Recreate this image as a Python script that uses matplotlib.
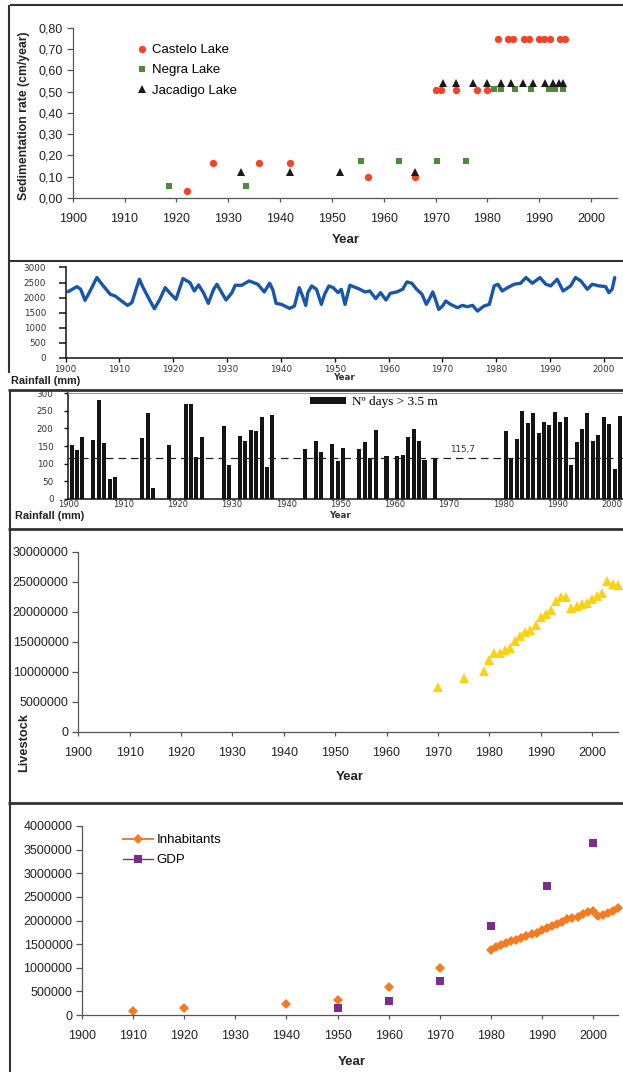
import matplotlib
matplotlib.use("Agg")
import matplotlib.pyplot as plt
from matplotlib.lines import Line2D

plt.rcParams['font.family'] = ['Liberation Sans', 'DejaVu Sans']

# ---------------- data ----------------
decade_ticks = [1900, 1910, 1920, 1930, 1940, 1950, 1960, 1970, 1980, 1990, 2000]
decade_labels = ['1900', '1910', '1920', '1930', '1940', '1950', '1960', '1970', '1980', '1990', '2000']

# Panel 1: sedimentation rates
castelo_year = [1922, 1927, 1936, 1942, 1957, 1966, 1970, 1971, 1974, 1978, 1980,
                1982, 1984, 1985, 1987, 1988, 1990, 1991, 1992, 1994, 1995]
castelo_rate = [0.034, 0.165, 0.165, 0.165, 0.097, 0.097, 0.505, 0.505, 0.505, 0.505, 0.505,
                0.745, 0.745, 0.745, 0.745, 0.745, 0.745, 0.745, 0.745, 0.745, 0.745]
negra_year = [1918.5, 1933.4, 1955.7, 1963.0, 1970.3, 1975.8, 1981.2, 1982.6, 1985.3,
              1988.4, 1991.8, 1993.1, 1994.6]
negra_rate = [0.055, 0.055, 0.175, 0.175, 0.175, 0.175, 0.514, 0.514, 0.514,
              0.514, 0.514, 0.514, 0.514]
jacadigo_year = [1932.4, 1942.0, 1951.6, 1966.1, 1971.4, 1973.9, 1977.2, 1980.0, 1982.6,
                 1984.5, 1986.8, 1988.7, 1991.2, 1992.6, 1993.9, 1994.6]
jacadigo_rate = [0.12, 0.12, 0.12, 0.12, 0.54, 0.54, 0.54, 0.54, 0.54,
                 0.54, 0.54, 0.54, 0.54, 0.54, 0.54, 0.54]
sed_ticks = [0.0, 0.1, 0.2, 0.3, 0.4, 0.5, 0.6, 0.7, 0.8]
sed_labels = ['0,00', '0,10', '0,20', '0,30', '0,40', '0,50', '0,60', '0,70', '0,80']

# Panel 2: rainfall (mm)
rain_year = [1900.5, 1902.1, 1902.8, 1903.6, 1904.4, 1905.8, 1907.0, 1908.3, 1909.2, 1910.4,
             1911.5, 1912.3, 1913.7, 1914.4, 1915.7, 1916.5, 1917.5, 1918.5, 1919.4, 1920.5,
             1921.8, 1923.1, 1923.9, 1924.7, 1925.6, 1926.5, 1927.5, 1928.1, 1929.0, 1929.8,
             1930.9, 1931.5, 1932.7, 1934.1, 1935.7, 1936.9, 1937.9, 1938.5, 1939.1, 1940.1,
             1941.6, 1942.5, 1943.4, 1944.0, 1944.6, 1945.0, 1945.7, 1946.6, 1947.5, 1948.1,
             1948.9, 1949.7, 1950.6, 1951.2, 1951.9, 1952.8, 1954.4, 1955.6, 1956.5, 1957.6,
             1958.5, 1959.5, 1960.3, 1961.5, 1962.6, 1963.4, 1964.3, 1965.2, 1966.2, 1967.0,
             1967.6, 1968.2, 1968.7, 1969.3, 1970.0, 1970.6, 1971.5, 1972.8, 1973.7, 1974.6,
             1975.6, 1976.5, 1977.7, 1978.7, 1979.6, 1980.3, 1981.1, 1982.1, 1983.3, 1984.5,
             1985.5, 1986.7, 1988.1, 1989.2, 1990.1, 1991.3, 1992.4, 1993.8, 1994.7, 1995.7,
             1996.9, 1997.8, 1999.1, 2000.3, 2000.9, 2001.5, 2002.0]
rain_mm = [2200, 2367, 2280, 1911, 2167, 2667, 2389, 2111, 2055, 1889,
           1744, 1833, 2611, 2333, 1889, 1633, 1944, 2333, 2144, 1944,
           2633, 2500, 2222, 2422, 2167, 1811, 2278, 2444, 2167, 1922,
           2167, 2411, 2411, 2555, 2444, 2189, 2478, 2255, 1811, 1778,
           1644, 1722, 2333, 2055, 1744, 2167, 2389, 2278, 1778, 2111,
           2389, 2333, 2167, 2278, 1778, 2411, 2300, 2189, 2222, 1967,
           2167, 1922, 2144, 2189, 2278, 2522, 2478, 2278, 2111, 1778,
           1967, 2189, 1944, 1611, 1722, 1889, 1778, 1667, 1744, 1700,
           1744, 1555, 1722, 1778, 2389, 2444, 2222, 2333, 2444, 2478,
           2667, 2478, 2667, 2444, 2389, 2611, 2222, 2389, 2667, 2555,
           2278, 2444, 2389, 2367, 2167, 2278, 2667]
rain_ticks = [0, 500, 1000, 1500, 2000, 2500, 3000]
rain_labels = ['0', '500', '1000', '1500', '2000', '2500', '3000']

# Panel 3: number of days > 3.5 m
days_year = [1900, 1901, 1902, 1904, 1905, 1906, 1907, 1908, 1913, 1914, 1915, 1918,
             1921, 1922, 1923, 1924, 1928, 1929, 1931, 1932, 1933, 1934, 1935, 1936, 1937,
             1943, 1945, 1946, 1948, 1949, 1950, 1953, 1954, 1955, 1956, 1958,
             1960, 1961, 1962, 1963, 1964, 1965, 1967,
             1980, 1981, 1982, 1983, 1984, 1985, 1986, 1987, 1988, 1989, 1990,
             1991, 1992, 1993, 1994, 1995, 1996, 1997, 1998, 1999, 2000, 2001]
days_count = [152, 138, 175, 167, 280, 158, 57, 63, 174, 242, 31, 154,
              270, 270, 120, 175, 207, 97, 179, 165, 196, 193, 233, 90, 239,
              142, 165, 133, 156, 107, 144, 142, 160, 116, 196, 121,
              121, 125, 175, 198, 165, 111, 114,
              193, 116, 170, 250, 216, 243, 186, 219, 209, 246, 219,
              232, 95, 161, 197, 243, 165, 180, 232, 213, 85, 235]
days_mean = 115.7
days_ticks = [0, 50, 100, 150, 200, 250, 300]
days_labels = ['0', '50', '100', '150', '200', '250', '300']

# Panel 4: livestock
livestock_year = [1970, 1975, 1979, 1980, 1981, 1982, 1983, 1984, 1985, 1986, 1987, 1988,
                  1989, 1990, 1991, 1992, 1993, 1994, 1995, 1996, 1997, 1998, 1999, 2000,
                  2001, 2002, 2003, 2004, 2005]
livestock_head = [7500000, 8900000, 10100000, 11900000, 13050000, 13200000, 13550000,
                  13900000, 15100000, 15900000, 16550000, 17000000, 17800000, 19200000,
                  19550000, 20300000, 21800000, 22400000, 22400000, 20700000, 21000000,
                  21350000, 21500000, 22100000, 22700000, 23200000, 25100000, 24700000,
                  24400000]
live_ticks = [0, 5000000, 10000000, 15000000, 20000000, 25000000, 30000000]
live_labels = ['0', '5000000', '10000000', '15000000', '20000000', '25000000', '30000000']

# Panel 5: inhabitants and GDP
inhab_year = [1910, 1920, 1940, 1950, 1960, 1970, 1980, 1981, 1982, 1983, 1984, 1985,
              1986, 1987, 1988, 1989, 1990, 1991, 1992, 1993, 1994, 1995, 1996, 1997,
              1998, 1999, 2000, 2001, 2002, 2003, 2004, 2005]
inhab_count = [85000, 141000, 240000, 310000, 593000, 995000, 1376000, 1446000, 1474000,
               1517000, 1559000, 1587000, 1630000, 1672000, 1707000, 1742000, 1799000,
               1841000, 1884000, 1926000, 1975000, 2025000, 2046000, 2081000, 2130000,
               2180000, 2200000, 2095000, 2116000, 2150000, 2200000, 2270000]
gdp_year = [1950, 1960, 1970, 1980, 1991, 2000]
gdp_value = [155000, 303000, 720000, 1884000, 2730000, 3647000]
pop_ticks = [0, 500000, 1000000, 1500000, 2000000, 2500000, 3000000, 3500000, 4000000]
pop_labels = ['0', '500000', '1000000', '1500000', '2000000', '2500000', '3000000',
              '3500000', '4000000']

# ---------------- figure ----------------
W, H = 623, 1072
fig = plt.figure(figsize=(W / 100, H / 100), dpi=100)
fig.patch.set_facecolor('white')


def ax_px(left, top, right, bottom):
    return fig.add_axes([left / W, 1 - bottom / H, (right - left) / W, (bottom - top) / H])


def fx(x):
    return x / W


def fy(y):
    return 1 - y / H


def frame_line(xs, ys, lw=1.5, color='#333333'):
    fig.add_artist(Line2D([fx(v) for v in xs], [fy(v) for v in ys],
                          transform=fig.transFigure, color=color, lw=lw,
                          solid_capstyle='butt'))


# panel frames
frame_line([9.5, 623], [5, 5])
frame_line([9, 9], [5, 373])
frame_line([8, 623], [261, 261])
frame_line([8, 623], [389.5, 389.5], lw=2.0)
frame_line([9.5, 9.5], [389.5, 1072])
frame_line([8, 623], [529, 529], lw=2.0)
frame_line([8, 623], [803, 803], lw=2.0)

AXC = '#555555'
TXT = '#222222'


def excel_axes(ax):
    for s in ('top', 'right'):
        ax.spines[s].set_visible(False)
    for s in ('left', 'bottom'):
        ax.spines[s].set_color(AXC)
        ax.spines[s].set_linewidth(0.9)
    ax.tick_params(axis='both', colors=AXC, labelcolor=TXT, labelsize=9, width=0.9)
    ax.tick_params(axis='x', direction='out', length=3, pad=8)
    ax.tick_params(axis='y', direction='out', length=4, pad=3)
    ax.set_facecolor('none')


# ---- Panel 1 ----
ax1 = ax_px(72.7, 27.7, 617, 198)
excel_axes(ax1)
ax1.plot(castelo_year, castelo_rate, 'o', color='#F0452A', ms=5.3, mew=0, label='Castelo Lake')
ax1.plot(negra_year, negra_rate, 's', color='#4B8B3B', ms=5.0, mew=0, label='Negra Lake')
ax1.plot(jacadigo_year, jacadigo_rate, '^', color='#1A1A1A', ms=5.8, mew=0, label='Jacadigo Lake')
ax1.set_xlim(1900, 2005)
ax1.set_ylim(0, 0.8)
ax1.set_xticks(decade_ticks, decade_labels)
ax1.set_yticks(sed_ticks, sed_labels)
ax1.legend(loc='upper left', bbox_to_anchor=(fx(138), fy(44)), bbox_transform=fig.transFigure,
           frameon=False, borderpad=0, borderaxespad=0, handlelength=0.6, handletextpad=0.45,
           labelspacing=0.6, numpoints=1, fontsize=9.5)
fig.text(fx(24), fy(116), 'Sedimentation rate (cm/year)', rotation=90, ha='center', va='center',
         fontsize=8.8, fontweight='bold', color=TXT)
fig.text(fx(346), fy(240), 'Year', ha='center', va='center', fontsize=9.5, fontweight='bold',
         color=TXT)

# ---- Panel 2 ----
SMALL = 'DejaVu Sans'
ax2 = ax_px(65.6, 267.5, 623, 358)
for s in ('top', 'right'):
    ax2.spines[s].set_visible(False)
for s in ('left', 'bottom'):
    ax2.spines[s].set_color('#111111')
    ax2.spines[s].set_linewidth(1.1)
ax2.plot(rain_year, rain_mm, color='#1756A9', lw=2.4, solid_joinstyle='round',
         solid_capstyle='round')
ax2.set_xlim(1900, 1900 + (623 - 65.6) / 5.384)
ax2.set_ylim(0, 3000)
ax2.set_xticks(decade_ticks, decade_labels, fontfamily=SMALL, fontsize=6.3)
ax2.set_yticks(rain_ticks, rain_labels, fontfamily=SMALL, fontsize=6.3)
ax2.tick_params(axis='x', direction='out', length=3, width=1, pad=2, colors='#111111',
                labelcolor='#333333')
ax2.tick_params(axis='y', direction='out', length=5, width=1.1, pad=9, colors='#111111',
                labelcolor='#333333')
ax2.set_facecolor('none')
fig.text(fx(344), fy(377), 'Year', ha='center', va='center', fontsize=6.3, fontweight='bold',
         fontfamily=SMALL, color='#333333')
fig.text(fx(11), fy(381), 'Rainfall (mm)', ha='left', va='center', fontsize=7.8,
         fontweight='bold', color=TXT)

# ---- Panel 3 ----
ax3 = ax_px(67.5, 393, 623, 499)
ax3.spines['right'].set_visible(False)
ax3.spines['top'].set_color('#9a9a9a')
ax3.spines['top'].set_linewidth(0.8)
for s in ('left', 'bottom'):
    ax3.spines[s].set_color('#111111')
    ax3.spines[s].set_linewidth(1.1)
ax3.bar([y + 0.1 for y in days_year], days_count, width=0.74, align='edge', color='#141414',
        edgecolor='none', label='N\u00ba days > 3.5 m')
ax3.axhline(days_mean, color='#222222', lw=0.9, dashes=(6, 4))
ax3.text(1972.4, 140, '115,7', ha='center', va='center', fontsize=6.3, fontfamily=SMALL,
         color='#333333')
ax3.set_xlim(1900 - 1.5 / 5.43, 1900 + (623 - 69) / 5.43)
ax3.set_ylim(0, 300)
ax3.set_xticks(decade_ticks, decade_labels, fontfamily=SMALL, fontsize=6.0)
ax3.set_yticks(days_ticks, days_labels, fontfamily=SMALL, fontsize=6.3)
ax3.tick_params(axis='x', length=0, pad=1.0, labelcolor='#333333')
ax3.tick_params(axis='y', direction='out', length=3, width=1.0, pad=7, colors='#111111',
                labelcolor='#333333')
ax3.set_facecolor('none')
ax3.legend(loc='upper left', bbox_to_anchor=(fx(310), fy(396)), bbox_transform=fig.transFigure,
           frameon=False, borderpad=0, borderaxespad=0, handlelength=2.7, handleheight=0.42,
           handletextpad=0.45, prop={'family': 'Liberation Serif', 'size': 9.5})
fig.text(fx(340), fy(515), 'Year', ha='center', va='center', fontsize=6.3, fontweight='bold',
         fontfamily=SMALL, color='#333333')
fig.text(fx(15), fy(516), 'Rainfall (mm)', ha='left', va='center', fontsize=7.8,
         fontweight='bold', color=TXT)

# ---- Panel 4 ----
ax4 = ax_px(78.3, 551.7, 617.7, 731.7)
excel_axes(ax4)
ax4.plot(livestock_year, livestock_head, '^', color='#FCD116', ms=7, mew=0, clip_on=False)
ax4.set_xlim(1900, 2005)
ax4.set_ylim(0, 30000000)
ax4.set_xticks(decade_ticks, decade_labels)
ax4.set_yticks(live_ticks, live_labels)
fig.text(fx(24), fy(742), 'Livestock', rotation=90, ha='center', va='center', fontsize=9.2,
         fontweight='bold', color=TXT)
fig.text(fx(350), fy(777), 'Year', ha='center', va='center', fontsize=9.5, fontweight='bold',
         color=TXT)

# ---- Panel 5 ----
ax5 = ax_px(82.2, 826, 618.4, 1015)
excel_axes(ax5)
ORANGE = '#F47B20'
PURPLE = '#7B2D8E'
start = 0
for i in range(1, len(inhab_year) + 1):
    if i == len(inhab_year) or inhab_year[i] - inhab_year[i - 1] != 1:
        ax5.plot(inhab_year[start:i], inhab_count[start:i], color=ORANGE, lw=1.4, marker='D',
                 ms=5.0, mew=0, clip_on=False)
        start = i
ax5.plot(gdp_year, gdp_value, 's', color=PURPLE, ms=6, mew=0)
ax5.set_xlim(1900, 2005)
ax5.set_ylim(0, 4000000)
ax5.set_xticks(decade_ticks, decade_labels)
ax5.set_yticks(pop_ticks, pop_labels)
handles = [Line2D([], [], color=ORANGE, lw=1.4, marker='D', ms=5.0, mew=0),
           Line2D([], [], color=PURPLE, lw=1.0, marker='s', ms=6, mew=0)]
ax5.legend(handles, ['Inhabitants', 'GDP'], loc='upper left',
           bbox_to_anchor=(fx(123), fy(834)), bbox_transform=fig.transFigure, frameon=False,
           borderpad=0, borderaxespad=0, handlelength=2.3, handletextpad=0.25,
           labelspacing=0.6, fontsize=9.5)
fig.text(fx(351.6), fy(1061.7), 'Year', ha='center', va='center', fontsize=9.5,
         fontweight='bold', color=TXT)

fig.savefig('out.png', dpi=100, facecolor='white')
